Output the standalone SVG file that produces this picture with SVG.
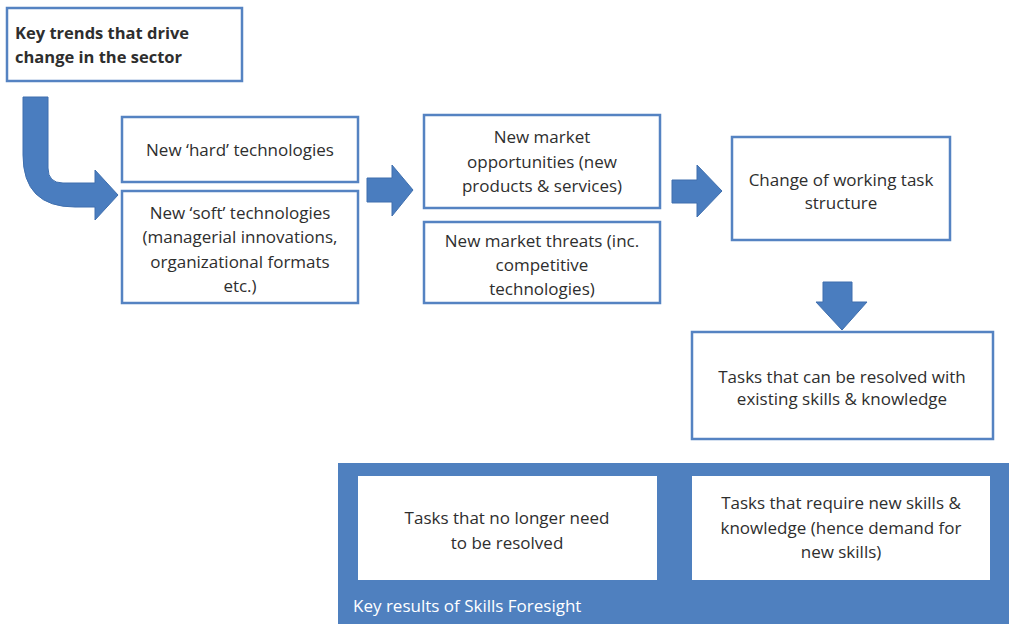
<svg xmlns="http://www.w3.org/2000/svg" width="1009" height="624" viewBox="0 0 1009 624">
<style>
.box{fill:#fff;stroke:#5583c2;stroke-width:2.5}
.arr{fill:#4a7dbf;stroke:#3f6fae;stroke-width:1}
.t{font-family:"Open Sans","Liberation Sans",sans-serif;font-size:17px;fill:#2e2e2e;text-anchor:middle}
.b{font-weight:bold;text-anchor:start;font-size:16.5px}
.lbl{font-family:"Open Sans","Liberation Sans",sans-serif;font-size:17px;fill:#fff}
</style>
<rect width="1009" height="624" fill="#fff"/>
<g id="connectors">
<path class="arr" d="M23,97 L48,97 L48,168 Q48,183 63,183 L95,183 L95,170 L118,195 L95,220 L95,207 L75,207 Q23,207 23,155 Z"/>
<path class="arr" d="M367,178 L392,178 L392,165 L413,190 L392,216 L392,202 L367,202 Z"/>
<path class="arr" d="M672,180 L697,180 L697,165 L722,191 L697,217 L697,203 L672,203 Z"/>
<path class="arr" d="M823,282 L852,282 L852,302 L867,302 L842,330 L816,302 L823,302 Z"/>
</g>
<g id="n-trends">
<rect class="box" x="7" y="8" width="235" height="73"/>
<text class="t b" x="15" y="39">Key trends that drive</text>
<text class="t b" x="15" y="63">change in the sector</text>
</g>
<g id="n-hard">
<rect class="box" x="122" y="117" width="236" height="65"/>
<text class="t" x="240" y="156">New ‘hard’ technologies</text>
</g>
<g id="n-soft">
<rect class="box" x="122" y="191" width="236" height="112"/>
<text class="t" x="240" y="219">New ‘soft’ technologies</text>
<text class="t" x="240" y="243">(managerial innovations,</text>
<text class="t" x="240" y="268">organizational formats</text>
<text class="t" x="240" y="292">etc.)</text>
</g>
<g id="n-opps">
<rect class="box" x="424" y="115" width="236" height="93"/>
<text class="t" x="542" y="143">New market</text>
<text class="t" x="542" y="168">opportunities (new</text>
<text class="t" x="542" y="192">products &amp; services)</text>
</g>
<g id="n-threats">
<rect class="box" x="424" y="222" width="236" height="81"/>
<text class="t" x="542" y="247">New market threats (inc.</text>
<text class="t" x="542" y="271">competitive</text>
<text class="t" x="542" y="295">technologies)</text>
</g>
<g id="n-change">
<rect class="box" x="732" y="137" width="218" height="103"/>
<text class="t" x="841" y="186">Change of working task</text>
<text class="t" x="841" y="209">structure</text>
</g>
<g id="n-existing">
<rect class="box" x="692" y="332" width="301" height="107"/>
<text class="t" x="842" y="383">Tasks that can be resolved with</text>
<text class="t" x="842" y="405">existing skills &amp; knowledge</text>
</g>
<g id="n-results">
<rect x="338" y="463" width="671" height="161" fill="#4f80bf"/>
<text class="lbl" x="353" y="612">Key results of Skills Foresight</text>
</g>
<g id="n-nolonger">
<rect x="358" y="476" width="299" height="104" fill="#fff"/>
<text class="t" x="507" y="524">Tasks that no longer need</text>
<text class="t" x="507" y="549">to be resolved</text>
</g>
<g id="n-newskills">
<rect x="692" y="476" width="298" height="104" fill="#fff"/>
<text class="t" x="841" y="509">Tasks that require new skills &amp;</text>
<text class="t" x="841" y="534">knowledge (hence demand for</text>
<text class="t" x="841" y="558">new skills)</text>
</g>
</svg>
